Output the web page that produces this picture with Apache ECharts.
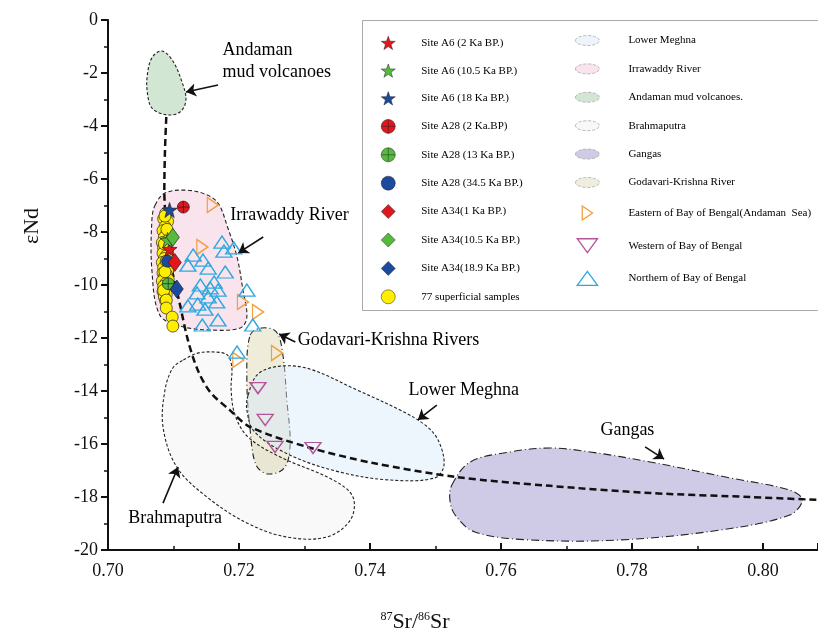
<!DOCTYPE html>
<html>
<head>
<meta charset="utf-8">
<script src="https://cdn.jsdelivr.net/npm/echarts@6/dist/echarts.min.js"></script>
<style>
html, body { margin: 0; padding: 0; background: #fff; }
#main { width: 818px; height: 639px; }
</style>
</head>
<body>
<div id="main"></div>
<script>
// 87Sr/86Sr vs eNd
var FONT = 'Liberation Serif';

// source regions (outline vertices, [Sr, Nd])
var regLowerMeghna = [[0.7214,-14.15],[0.7229,-13.36],[0.7263,-13.06],[0.7308,-13.17],[0.7380,-13.96],[0.7446,-14.72],[0.7484,-15.28],[0.7504,-15.85],[0.7513,-16.79],[0.7499,-17.28],[0.7431,-17.36],[0.7354,-17.06],[0.7278,-16.42],[0.7224,-15.55],[0.7212,-14.72]];
var regIrrawaddy = [[0.7072,-6.98],[0.7087,-6.53],[0.7118,-6.42],[0.7148,-6.57],[0.7168,-6.91],[0.7183,-7.85],[0.7197,-8.94],[0.7206,-10.19],[0.7212,-11.21],[0.7202,-11.62],[0.7156,-11.70],[0.7110,-11.55],[0.7079,-11.13],[0.7067,-9.43],[0.7067,-7.55]];
var regAndaman = [[0.7060,-2.08],[0.7067,-1.43],[0.7082,-1.17],[0.7098,-1.51],[0.7113,-2.34],[0.7119,-3.02],[0.7110,-3.47],[0.7089,-3.58],[0.7067,-3.32],[0.7060,-2.72]];
var regBrahmaputra = [[0.7115,-12.83],[0.7137,-12.57],[0.7163,-12.53],[0.7182,-12.64],[0.7189,-13.09],[0.7188,-13.96],[0.7194,-14.91],[0.7214,-15.74],[0.7263,-16.49],[0.7344,-17.36],[0.7374,-18.00],[0.7370,-18.87],[0.7334,-19.51],[0.7273,-19.51],[0.7212,-18.98],[0.7151,-18.00],[0.7105,-16.87],[0.7084,-15.36],[0.7087,-13.96],[0.7099,-13.13]];
var regGangas = [[0.7525,-17.55],[0.7553,-16.68],[0.7614,-16.30],[0.7675,-16.15],[0.7736,-16.30],[0.7828,-16.68],[0.7950,-17.28],[0.8041,-17.74],[0.8060,-18.11],[0.8041,-18.68],[0.7934,-19.25],[0.7782,-19.62],[0.7644,-19.62],[0.7560,-19.32],[0.7530,-18.68],[0.7522,-18.11]];
var regGodavari = [[0.7217,-11.89],[0.7235,-11.62],[0.7257,-11.77],[0.7267,-12.64],[0.7273,-14.34],[0.7278,-16.04],[0.7269,-16.91],[0.7244,-17.13],[0.7226,-16.79],[0.7217,-15.47],[0.7212,-13.58]];

// mixing curve
var mixCurve = [[0.7089,-3.66],[0.7087,-4.91],[0.7086,-6.42],[0.7095,-9.06],[0.7110,-10.75],[0.7122,-12.08],[0.7137,-13.21],[0.7156,-14.04],[0.7186,-14.72],[0.7217,-15.36],[0.7304,-16.11],[0.7405,-16.72],[0.7533,-17.25],[0.7675,-17.58],[0.7828,-17.85],[0.7980,-18.00],[0.8084,-18.11]];

// core samples
var a6_2ka = [[0.7094,-8.65]];
var a6_10ka = [[0.7091,-8.30]];
var a6_18ka = [[0.7094,-7.17]];
var a28_2ka = [[0.7115,-7.06]];
var a28_13ka = [[0.7092,-9.95]];
var a28_34ka = [[0.7091,-9.10]];
var a34_1ka = [[0.7102,-9.15]];
var a34_10ka = [[0.7099,-8.20]];
var a34_18ka = [[0.7105,-10.15]];

var superficial = [[0.7088,-7.3],[0.7085,-7.5],[0.7091,-7.6],[0.7087,-7.8],[0.7084,-7.95],[0.7090,-8.05],[0.7086,-8.2],[0.7092,-8.3],[0.7083,-8.4],[0.7088,-8.5],[0.7085,-8.6],[0.7091,-8.7],[0.7084,-8.8],[0.7089,-8.9],[0.7086,-9.0],[0.7093,-9.05],[0.7083,-9.15],[0.7088,-9.25],[0.7085,-9.35],[0.7091,-9.45],[0.7084,-9.55],[0.7089,-9.6],[0.7086,-9.7],[0.7092,-9.8],[0.7083,-9.85],[0.7088,-9.95],[0.7085,-10.05],[0.7090,-10.15],[0.7084,-10.25],[0.7089,-10.35],[0.7086,-10.45],[0.7088,-10.6],[0.7087,-7.4],[0.7090,-7.9],[0.7086,-8.45],[0.7089,-9.1],[0.7087,-9.5],[0.7085,-10.2],[0.7089,-10.57],[0.7089,-10.87],[0.7098,-11.21],[0.7099,-11.55]];

var eastBoB = [[0.7160,-6.98],[0.7144,-8.57],[0.7206,-10.64],[0.7229,-11.02],[0.7199,-12.83],[0.7258,-12.57]];
var westBoB = [[0.7229,-13.89],[0.7240,-15.09],[0.7255,-16.11],[0.7313,-16.15]];
var northBoB = [[0.7174,-8.38],[0.7192,-8.60],[0.7177,-8.72],[0.7130,-8.87],[0.7122,-9.25],[0.7145,-9.06],[0.7153,-9.36],[0.7179,-9.51],[0.7162,-9.89],[0.7141,-10.00],[0.7168,-10.19],[0.7156,-10.11],[0.7136,-10.30],[0.7153,-10.45],[0.7166,-10.64],[0.7122,-10.79],[0.7137,-10.72],[0.7148,-10.91],[0.7212,-10.19],[0.7168,-11.32],[0.7144,-11.51],[0.7221,-11.51],[0.7197,-12.53]];

// annotations
var annoLabels = [
  ['Andaman\nmud volcanoes', 0.7174, -1.55],
  ['Irrawaddy River', 0.7186, -7.36],
  ['Godavari-Krishna Rivers', 0.7289, -12.08],
  ['Lower Meghna', 0.7458, -13.96],
  ['Gangas', 0.7751, -15.47],
  ['Brahmaputra', 0.7030, -18.79]
];
var annoArrows = [
  [0.7168, -2.45, 0.7119, -2.72],
  [0.7237, -8.19, 0.7199, -8.79],
  [0.7286, -12.15, 0.7261, -11.85],
  [0.7502, -14.53, 0.7473, -15.09],
  [0.7820, -16.11, 0.7849, -16.57],
  [0.7084, -18.23, 0.7107, -16.87]
];

var xTicks = { min: 0.70, max: 0.8084, step: 0.02 };
var yTicks = { min: -20, max: 0, step: 2 };

var STAR = 'path://M0,-10L2.35,-3.24L9.51,-3.09L3.8,1.24L5.88,8.09L0,4L-5.88,8.09L-3.8,1.24L-9.51,-3.09L-2.35,-3.24Z';
var XCIRCLE = 'path://M0,-10A10,10,0,1,1,0,10A10,10,0,1,1,0,-10ZM-10,0L10,0M0,-10L0,10';
var TRI_R = 'path://M0,0L11,7.5L0,15Z';
var TRI_D = 'path://M0,0L16,0L8,11Z';
var TRI_U = 'path://M8,0L16,11L0,11Z';
var ELLIPSE = 'path://M0,5A12,5,0,1,1,24,5A12,5,0,1,1,0,5Z';

var RED = '#e3161d', GREEN = '#55bb3c', BLUE = '#1b4a9e';
var ORANGE = '#f0a040', PURPLE = '#b4549a', CYAN = '#2fa8e0';
var CLEAR = 'rgba(255,255,255,0)';

function region(name, pts, fill, dash, stroke) {
  return {
    type: 'custom', name: name, z: 1, silent: true,
    data: [pts[0]],
    renderItem: function (params, api) {
      return {
        type: 'polygon',
        shape: { points: pts.map(function (p) { return api.coord(p); }), smooth: 0.35 },
        style: { fill: fill, stroke: stroke || '#222', lineWidth: 1.1, lineDash: dash }
      };
    },
    itemStyle: { color: fill }
  };
}

function pts(name, data, symbol, size, color, border) {
  return {
    type: 'scatter', name: name, z: 3, data: data,
    symbol: symbol, symbolSize: size,
    itemStyle: { color: color, borderColor: border || '#222', borderWidth: border ? 1.4 : 0.7, opacity: 1 }
  };
}

function solidIcon(name, icon, color) {
  return { name: name, icon: icon, itemStyle: { color: color, borderColor: '#222', borderWidth: 0.5 } };
}
function areaIcon(name, color) {
  return { name: name, icon: ELLIPSE, itemStyle: { color: color, borderColor: '#aaa', borderWidth: 0.8, borderType: 'dashed' } };
}
function openIcon(name, icon, color) {
  return { name: name, icon: icon, itemStyle: { color: CLEAR, borderColor: color, borderWidth: 1.3 } };
}

var chart = echarts.init(document.getElementById('main'));

var leftLegend = [
  solidIcon('Site A6 (2 Ka BP.)', STAR, RED),
  solidIcon('Site A6 (10.5 Ka BP.)', STAR, GREEN),
  solidIcon('Site A6 (18 Ka BP.)', STAR, BLUE),
  solidIcon('Site A28 (2 Ka.BP)', XCIRCLE, RED),
  solidIcon('Site A28 (13 Ka BP.)', XCIRCLE, GREEN),
  solidIcon('Site A28 (34.5 Ka BP.)', 'circle', BLUE),
  solidIcon('Site A34(1 Ka BP.)', 'diamond', RED),
  solidIcon('Site A34(10.5 Ka BP.)', 'diamond', GREEN),
  solidIcon('Site A34(18.9 Ka BP.)', 'diamond', BLUE),
  solidIcon('77 superficial samples', 'circle', '#ffee00')
];
var rightLegend = [
  areaIcon('Lower Meghna', '#eef4fb'),
  areaIcon('Irrawaddy River', '#f9e4ee'),
  areaIcon('Andaman mud volcanoes.', '#d2e7d3'),
  areaIcon('Brahmaputra', '#f8f8f8'),
  areaIcon('Gangas', '#cfcbe6'),
  areaIcon('Godavari-Krishna River', '#efeddd'),
  openIcon('Eastern of Bay of Bengal(Andaman  Sea)', TRI_R, ORANGE),
  openIcon('Western of Bay of Bengal', TRI_D, PURPLE),
  openIcon('Northern of Bay of Bengal', TRI_U, CYAN)
];

var option = {
  animation: false,
  backgroundColor: '#fff',
  textStyle: { fontFamily: FONT },
  grid: { left: 108, right: 0, top: 20, bottom: 89, containLabel: false },
  xAxis: {
    type: 'value', min: xTicks.min, max: xTicks.max, interval: xTicks.step,
    axisLine: { onZero: false, lineStyle: { color: '#111', width: 2 } },
    axisTick: { inside: true, length: 7, lineStyle: { color: '#111', width: 2 } },
    minorTick: { show: true, splitNumber: 2, length: 4, lineStyle: { color: '#111', width: 1.5 } },
    splitLine: { show: false },
    axisLabel: {
      color: '#111', fontSize: 18, fontFamily: FONT, margin: 12, showMaxLabel: false,
      formatter: function (v) { return v.toFixed(2); }
    }
  },
  yAxis: {
    type: 'value', min: yTicks.min, max: yTicks.max, interval: yTicks.step,
    axisLine: { onZero: false, lineStyle: { color: '#111', width: 2 } },
    axisTick: { inside: false, length: 7, lineStyle: { color: '#111', width: 2 } },
    minorTick: { show: true, splitNumber: 2, length: 4, lineStyle: { color: '#111', width: 1.5 } },
    splitLine: { show: false },
    axisLabel: { color: '#111', fontSize: 18, fontFamily: FONT, margin: 10 }
  },
  legend: [
    {
      orient: 'vertical', left: 376, top: 31, itemWidth: 14, itemHeight: 14, itemGap: 13.9,
      data: leftLegend,
      textStyle: { fontFamily: FONT, fontSize: 11, color: '#000', padding: [0, 0, 0, 21] }
    },
    {
      orient: 'vertical', left: 570, top: 30, itemWidth: 24, itemHeight: 14, itemGap: 17.4,
      data: rightLegend,
      textStyle: { fontFamily: FONT, fontSize: 11, color: '#000', padding: [0, 0, 0, 24] }
    }
  ],
  graphic: [
    { type: 'rect', left: 362, top: 20, z: -1, shape: { width: 470, height: 290 }, style: { fill: '#fff', stroke: '#aaa', lineWidth: 1 } },
    { type: 'text', x: 32, y: 226, rotation: Math.PI / 2, style: { text: 'εNd', font: '22px ' + FONT, fill: '#111', align: 'center', verticalAlign: 'middle' } },
    { type: 'text', x: 415, y: 622, style: {
        text: '{s|87}Sr/{s|86}Sr', align: 'center', verticalAlign: 'middle', fill: '#111',
        rich: { s: { fontSize: 12, fontFamily: FONT, verticalAlign: 'top', padding: [0, 0, 10, 0] } },
        font: '22px ' + FONT
      } }
  ],
  series: [
    region('Godavari-Krishna River', regGodavari, '#efecda', [6, 3, 1, 3]),
    region('Gangas', regGangas, '#cfcbe6', [8, 3, 1, 3]),
    region('Brahmaputra', regBrahmaputra, 'rgba(0,0,0,0.025)', [3, 2]),
    region('Lower Meghna', regLowerMeghna, 'rgba(215,232,250,0.45)', [3, 2]),
    region('Irrawaddy River', regIrrawaddy, '#f9e4ee', [4, 2.5]),
    region('Andaman mud volcanoes.', regAndaman, '#d2e7d3', [3, 2]),
    {
      type: 'line', name: 'mixing', z: 2, data: mixCurve, smooth: 0.3, symbol: 'none', silent: true,
      lineStyle: { color: '#111', width: 2.5, type: [7, 4] }
    },
    pts('77 superficial samples', superficial, 'circle', 12, '#ffee00'),
    pts('Site A6 (2 Ka BP.)', a6_2ka, STAR, 15, RED),
    pts('Site A6 (10.5 Ka BP.)', a6_10ka, STAR, 15, GREEN),
    pts('Site A6 (18 Ka BP.)', a6_18ka, STAR, 15, BLUE),
    pts('Site A28 (2 Ka.BP)', a28_2ka, XCIRCLE, 12, RED),
    pts('Site A28 (13 Ka BP.)', a28_13ka, XCIRCLE, 12, GREEN),
    pts('Site A28 (34.5 Ka BP.)', a28_34ka, 'circle', 12, BLUE),
    pts('Site A34(1 Ka BP.)', a34_1ka, 'diamond', [13, 18], RED),
    pts('Site A34(10.5 Ka BP.)', a34_10ka, 'diamond', [13, 18], GREEN),
    pts('Site A34(18.9 Ka BP.)', a34_18ka, 'diamond', [13, 18], BLUE),
    pts('Eastern of Bay of Bengal(Andaman  Sea)', eastBoB, TRI_R, [11, 15], CLEAR, ORANGE),
    pts('Western of Bay of Bengal', westBoB, TRI_D, [16, 11], CLEAR, PURPLE),
    pts('Northern of Bay of Bengal', northBoB, TRI_U, [16, 12], CLEAR, CYAN),
    {
      type: 'lines', coordinateSystem: 'cartesian2d', z: 4, silent: true,
      symbol: ['none', 'arrow'], symbolSize: 10,
      lineStyle: { color: '#111', width: 1.6, opacity: 1, curveness: 0 },
      data: annoArrows.map(function (a) { return { coords: [[a[0], a[1]], [a[2], a[3]]] }; })
    },
    {
      type: 'scatter', z: 4, silent: true, symbolSize: 1,
      itemStyle: { color: CLEAR },
      label: {
        show: true, position: 'right', distance: 0, formatter: '{b}',
        fontFamily: FONT, fontSize: 18, color: '#000', opacity: 1, textBorderWidth: 0,
        lineHeight: 22, align: 'left'
      },
      data: annoLabels.map(function (l) { return { name: l[0], value: [l[1], l[2]] }; })
    }
  ]
};

chart.setOption(option);
</script>
</body>
</html>
